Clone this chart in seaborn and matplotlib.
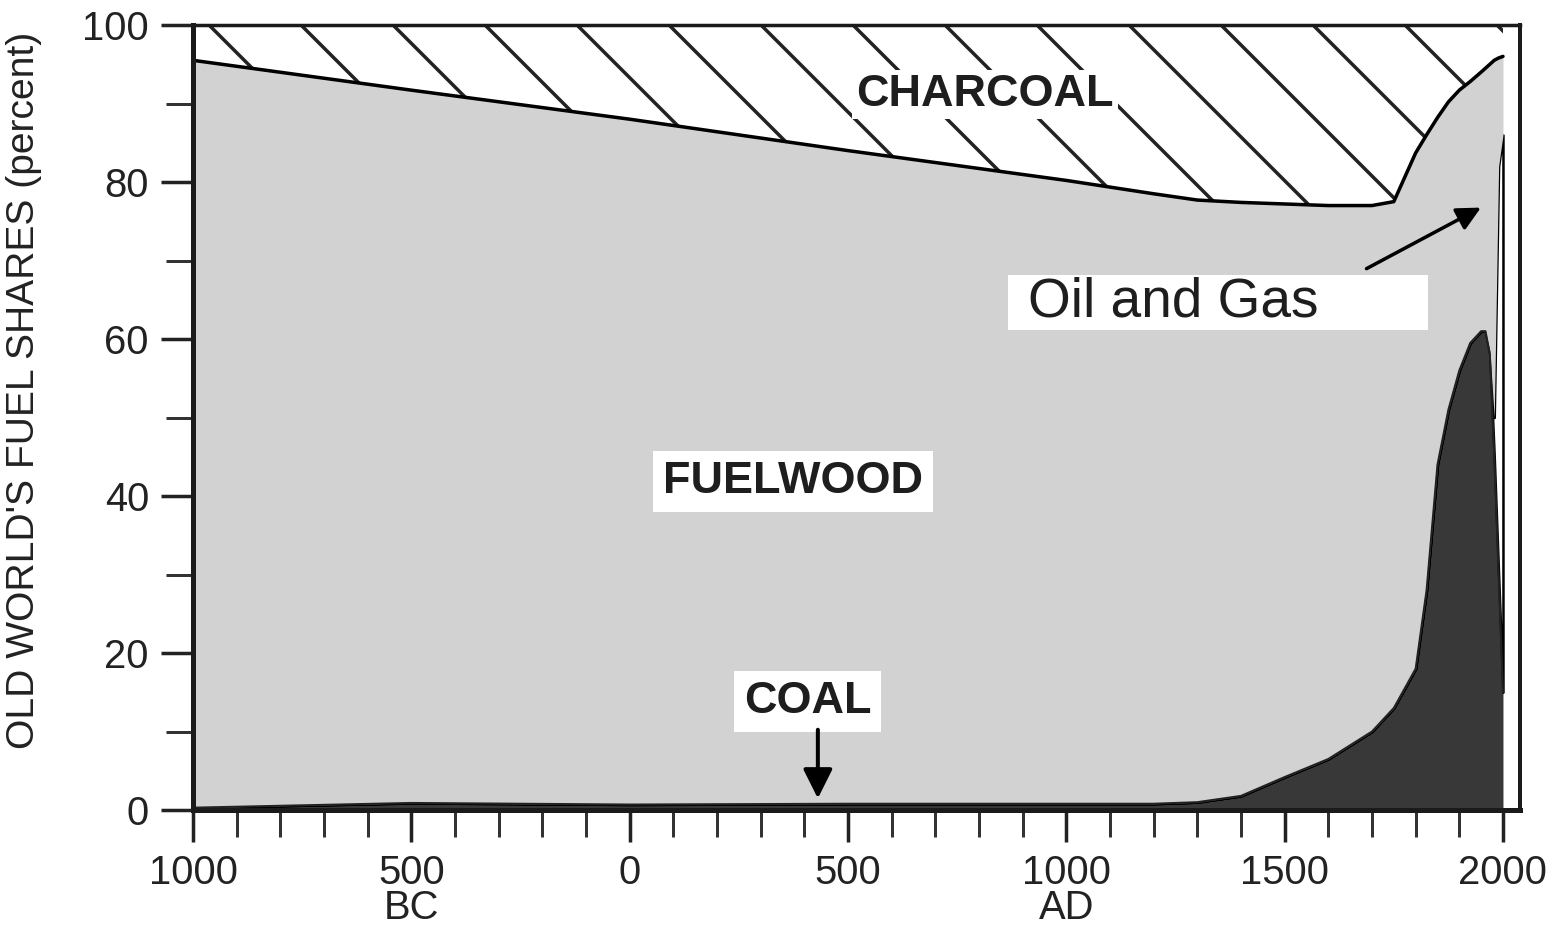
import matplotlib
matplotlib.use("Agg")
import pandas as pd
import seaborn as sns
from matplotlib import pyplot as plt

# shares of the old world's fuel use (percent)
years = [-1000, -500, 0, 500, 1000, 1200, 1300, 1400, 1450, 1500, 1600, 1700, 1750,
         1800, 1825, 1850, 1875, 1900, 1925, 1950, 1960, 1970, 1980, 1990, 2000]
coal = [0.3, 0.9, 0.7, 0.8, 0.8, 0.8, 1.0, 1.8, 3.0, 4.2, 6.5, 10, 13,
        18, 28, 44, 51, 56, 59.5, 61, 61, 58, 45, 30, 15]
oil_gas = [0, 0, 0, 0, 0, 0, 0, 0, 0, 0, 0, 0, 0,
           0, 0, 0, 0, 0, 0, 0, 0, 0.5, 5, 52, 71]
charcoal = [4.5, 8.3, 12, 16, 19.8, 21.5, 22.3, 22.6, 22.7, 22.8, 23, 23, 22.5,
            16.3, 14, 11.8, 9.8, 8.3, 7.2, 6, 5.5, 5, 4.5, 4.2, 4]

x_ticks = [-1000, -500, 0, 500, 1000, 1500, 2000]
x_labels = ["1000", "500\nBC", "0", "500", "1000\nAD", "1500", "2000"]
y_ticks = [0, 20, 40, 60, 80, 100]

DPI = 276


def px(v):
    # pixel size -> points at this dpi
    return v * 72 / DPI


data = pd.DataFrame({"year": years, "coal": coal, "oil_gas": oil_gas, "charcoal": charcoal})
data["fuelwood"] = 100 - data["coal"] - data["oil_gas"] - data["charcoal"]
data["coal_top"] = data["coal"]
data["oil_top"] = data["coal_top"] + data["oil_gas"]
data["wood_top"] = data["oil_top"] + data["fuelwood"]

sns.set_style("ticks")
plt.rcParams["font.family"] = ["Liberation Sans", "DejaVu Sans"]
plt.rcParams["hatch.linewidth"] = px(3.5)
plt.rcParams["hatch.color"] = "black"

fig = plt.figure(figsize=(1558 / DPI, 944 / DPI), dpi=DPI)
ax = fig.add_axes([193 / 1558, 1 - 810 / 944, (1520 - 193) / 1558, (810 - 25) / 944])

ax.fill_between(data["year"], 0, data["coal_top"], facecolor="#383838", linewidth=0)
ax.fill_between(data["year"], data["coal_top"], data["oil_top"], facecolor="white",
                edgecolor="black", linewidth=px(2.5))
ax.fill_between(data["year"], data["oil_top"], data["wood_top"], facecolor="#d2d2d2", linewidth=0)
ax.fill_between(data["year"], data["wood_top"], 100, facecolor="white", edgecolor="#222222",
                hatch="\\", linewidth=0)
sns.lineplot(data=data, x="year", y="wood_top", color="black", linewidth=px(3.5), ax=ax)
sns.lineplot(data=data, x="year", y="coal_top", color="#222222", linewidth=px(2), ax=ax)

label_kw = dict(fontsize=px(45), fontweight="bold", color="#1e1e1e", ha="center", va="center", zorder=3)
ax.text(814, 91.2, "CHARCOAL", bbox=dict(facecolor="white", edgecolor="none", pad=px(4)), **label_kw)
ax.text(374, 41.8, "FUELWOOD", bbox=dict(facecolor="white", edgecolor="none", pad=px(10)), **label_kw)
ax.text(408, 13.8, "COAL", bbox=dict(facecolor="white", edgecolor="none", pad=px(10)), **label_kw)
ax.annotate("", xy=(431, 0.5), xytext=(431, 11.2),
            arrowprops=dict(arrowstyle="-|>", color="black", lw=px(4), mutation_scale=px(62)))

# white box behind the oil and gas label
ax.add_patch(plt.Rectangle((-1000 + (1008 - 193) / 0.43667, (810 - 330) / 7.85),
                           (1428 - 1008) / 0.43667, (330 - 275) / 7.85,
                           facecolor="white", edgecolor="none", zorder=2))
ax.text(912, 64.6, "Oil and Gas", fontsize=px(55), color="#1e1e1e", ha="left", va="center", zorder=3)
ax.annotate("", xy=(1965, 77.2), xytext=(1672, 68.5),
            arrowprops=dict(arrowstyle="-|>", color="black", lw=px(3.5), mutation_scale=px(50)))

ax.set_xlim(-1000, 2039)
ax.set_ylim(0, 100)
ax.set_xticks(x_ticks)
ax.set_xticklabels(x_labels)
ax.set_xticks(range(-1000, 2001, 100), minor=True)
ax.set_yticks(y_ticks)
ax.set_yticks(range(10, 100, 20), minor=True)
ax.set_xlabel("")
ax.set_ylabel("OLD WORLD'S FUEL SHARES (percent)", fontsize=px(39), color="#222222")
ax.yaxis.set_label_coords((42 - 193) / (1520 - 193), 0.535)

ax.tick_params(axis="both", which="major", labelsize=px(40), labelcolor="#222222",
               width=px(3.5), length=px(32), pad=px(12), color="#222222")
ax.tick_params(axis="both", which="minor", width=px(3), length=px(27), color="#333333")
for t in ax.get_xticklabels():
    t.set_linespacing(0.9)
    t.set_va("top")

for side, lw in [("left", 5), ("bottom", 5), ("right", 4), ("top", 3.5)]:
    ax.spines[side].set_visible(True)
    ax.spines[side].set_linewidth(px(lw))
    ax.spines[side].set_color("#1a1a1a")

fig.savefig("out.png", dpi=DPI)
